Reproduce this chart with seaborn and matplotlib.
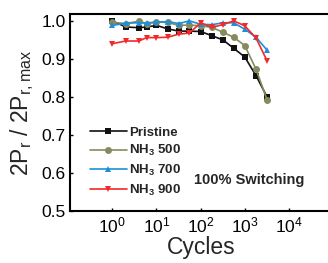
import numpy as np
import pandas as pd
import matplotlib
matplotlib.use("Agg")
import matplotlib.pyplot as plt
import matplotlib.ticker as mticker
import seaborn as sns

cycles = [1, 2, 4, 6, 10, 18, 32, 56, 100, 180, 320, 560, 1000, 1800, 3200]
pristine = [1.000, 0.984, 0.982, 0.984, 0.988, 0.979, 0.973, 0.973, 0.972,
            0.961, 0.950, 0.928, 0.905, 0.856, 0.800]
nh3_500 = [0.996, 0.993, 0.999, 0.993, 0.997, 0.996, 0.988, 0.989, 0.987,
           0.983, 0.970, 0.957, 0.935, 0.873, 0.792]
nh3_700 = [0.988, 0.994, 0.995, 0.994, 0.997, 0.998, 0.993, 1.000, 0.991,
           0.990, 0.995, 0.995, 0.978, 0.957, 0.923]
nh3_900 = [0.940, 0.947, 0.947, 0.956, 0.956, 0.957, 0.965, 0.968, 0.995,
           0.983, 0.990, 1.000, 0.987, 0.955, 0.895]
labels = ['Pristine', r'NH$_\mathbf{3}$ 500', r'NH$_\mathbf{3}$ 700', r'NH$_\mathbf{3}$ 900']
colors = ['#111111', '#878a5c', '#1e8fd6', '#f02a2a']
markers = ['s', 'o', '^', 'v']

series = [pristine, nh3_500, nh3_700, nh3_900]
df = pd.concat([pd.DataFrame({'cycles': cycles, 'ratio': s, 'sample': lab})
                for s, lab in zip(series, labels)])

sns.set_style('ticks')
plt.rcParams['font.family'] = ['Liberation Sans', 'DejaVu Sans']
plt.rcParams['mathtext.fontset'] = 'custom'
plt.rcParams['mathtext.rm'] = 'Liberation Sans'
plt.rcParams['mathtext.bf'] = 'Liberation Sans:bold'

fig = plt.figure(figsize=(3.28, 2.63), dpi=100)
ax = fig.add_axes([0.2134, 0.1977, 0.802, 0.749])

sns.lineplot(data=df, x='cycles', y='ratio', hue='sample', style='sample',
             palette=dict(zip(labels, colors)), markers=dict(zip(labels, markers)),
             dashes=False, markersize=5, linewidth=1.2, markeredgewidth=0,
             ax=ax, legend=True)

ax.set_xscale('log')
ax.set_xlim(0.11, 1e5)
ax.set_ylim(0.5, 1.018)
ax.xaxis.set_major_locator(mticker.FixedLocator([1, 10, 100, 1000, 10000]))
ax.xaxis.set_minor_locator(mticker.NullLocator())
ax.set_yticks([0.5, 0.6, 0.7, 0.8, 0.9, 1.0])
ax.yaxis.set_major_formatter(mticker.FormatStrFormatter('%.1f'))
ax.tick_params(direction='in', length=2.5, width=1, labelsize=12.5, pad=3,
               colors='black', top=False, right=False)
for sp in ax.spines.values():
    sp.set_linewidth(1.5)
    sp.set_color('black')
    sp.set_visible(True)

ax.set_xlabel('Cycles', fontsize=16.5, labelpad=1)
ax.set_ylabel(r'2P$_\mathregular{r}$ / 2P$_\mathregular{r,max}$', fontsize=16.5, labelpad=4)

ax.legend(loc='lower left', bbox_to_anchor=(0.055, 0.04), frameon=False,
          prop={'weight': 'bold', 'size': 9.5}, handlelength=2.8,
          labelspacing=0.35, handletextpad=0.2, borderaxespad=0)

ax.text(0.68, 0.155, '100% Switching', transform=ax.transAxes, ha='center',
        va='center', fontsize=10.5, fontweight='bold')

fig.savefig('out.png', dpi=100)
